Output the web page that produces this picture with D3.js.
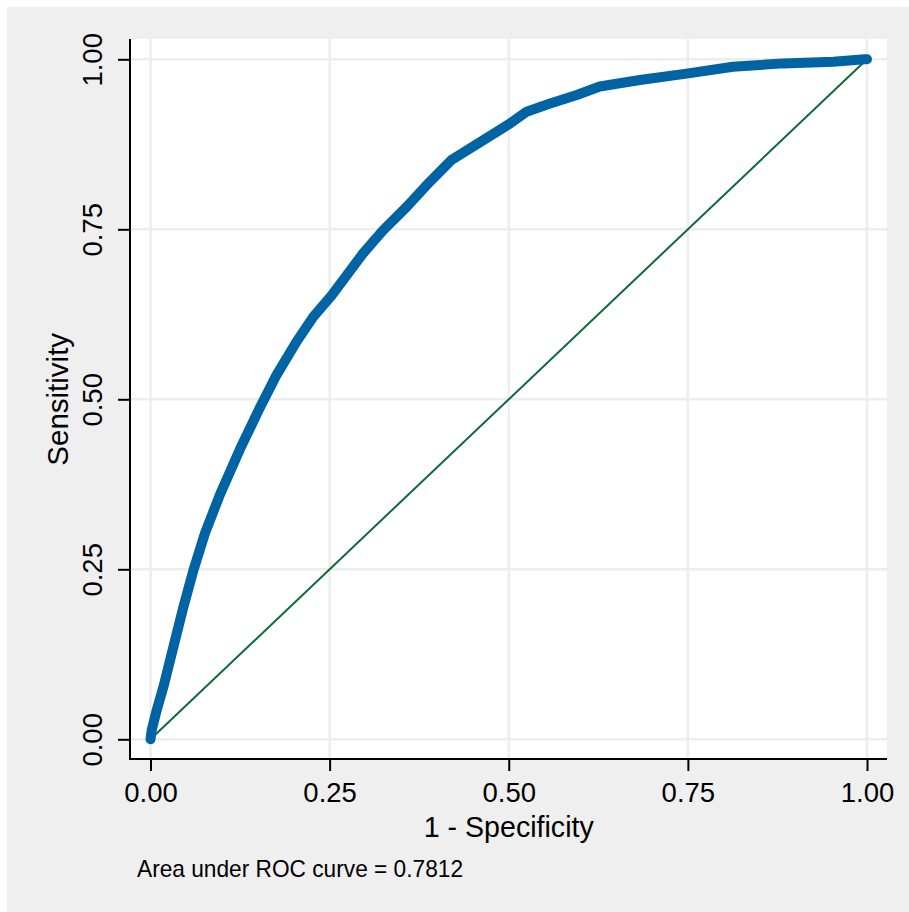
<!DOCTYPE html>
<html>
<head>
<meta charset="utf-8">
<script src="https://cdn.jsdelivr.net/npm/d3@7"></script>
<style>
  body { margin: 0; background: #fff; }
  svg { display: block; font-family: "Liberation Sans", Arial, sans-serif; }
</style>
</head>
<body>
<svg id="chart"></svg>
<script>
// courbe ROC : 1 - spécificité, sensibilité
var fpr = [0, 0.0017, 0.0087, 0.018, 0.032, 0.046, 0.060, 0.076, 0.097, 0.125, 0.150, 0.176,
  0.204, 0.227, 0.253, 0.297, 0.325, 0.3575, 0.390, 0.420, 0.4994, 0.525, 0.5576, 0.595,
  0.627, 0.683, 0.748, 0.813, 0.883, 0.953, 0.997, 1]
var tpr = [0, 0.0137, 0.043, 0.077, 0.136, 0.195, 0.249, 0.303, 0.360, 0.427, 0.482, 0.536,
  0.585, 0.621, 0.653, 0.715, 0.749, 0.783, 0.820, 0.852, 0.904, 0.923, 0.935, 0.9475,
  0.96, 0.9695, 0.979, 0.989, 0.994, 0.9965, 1.0, 1]

// diagonale de référence
var refX = [0, 1]
var refY = [0, 1]

var ticks = [0, 0.25, 0.5, 0.75, 1]
var xTitle = "1 - Specificity"
var yTitle = "Sensitivity"
var note = "Area under ROC curve = 0.7812"

var W = 909, H = 912
var svg = d3.select("#chart").attr("width", W).attr("height", H)

// fond gris
svg.append("rect")
  .attr("x", 7).attr("y", 7).attr("width", W - 7).attr("height", H - 7)
  .attr("fill", "#efefef")

// zone de tracé
var plot = {left: 130, top: 39, right: 887, bottom: 759}
svg.append("rect")
  .attr("x", plot.left).attr("y", plot.top)
  .attr("width", plot.right - plot.left).attr("height", plot.bottom - plot.top)
  .attr("fill", "#fff")

var x = d3.scaleLinear().domain([0, 1]).range([150.5, 867])
var y = d3.scaleLinear().domain([0, 1]).range([739.3, 59.3])

// grille
svg.append("g").selectAll("line").data(ticks).enter().append("line")
  .attr("x1", plot.left).attr("x2", plot.right)
  .attr("y1", function(d){return y(d)}).attr("y2", function(d){return y(d)})
  .attr("stroke", "#ededed").attr("stroke-width", 2.5)
svg.append("g").selectAll("line").data(ticks).enter().append("line")
  .attr("y1", plot.top).attr("y2", plot.bottom)
  .attr("x1", function(d){return x(d)}).attr("x2", function(d){return x(d)})
  .attr("stroke", "#ededed").attr("stroke-width", 2.5)

// diagonale
svg.append("path")
  .datum(d3.zip(refX, refY))
  .attr("d", d3.line().x(function(d){return x(d[0])}).y(function(d){return y(d[1])}))
  .attr("fill", "none").attr("stroke", "#0b6b3a").attr("stroke-width", 2)

// courbe ROC
svg.append("path")
  .datum(d3.zip(fpr, tpr))
  .attr("d", d3.line().x(function(d){return x(d[0])}).y(function(d){return y(d[1])}))
  .attr("fill", "none").attr("stroke", "#0063a3").attr("stroke-width", 10)
  .attr("stroke-linecap", "round").attr("stroke-linejoin", "round")

// axes
var fmt = d3.format(".2f")
var xAxis = svg.append("g")
  .attr("transform", "translate(0," + plot.bottom + ")")
  .call(d3.axisBottom(x).tickValues(ticks).tickSize(12).tickSizeOuter(0).tickFormat(fmt))
xAxis.select(".domain").remove()
xAxis.selectAll(".tick line").attr("stroke", "#000").attr("stroke-width", 2)
xAxis.selectAll(".tick text")
  .attr("y", 43).attr("dy", 0)
  .attr("font-size", 27.5).attr("font-family", "Liberation Sans, Arial, sans-serif").attr("fill", "#000")

var yAxis = svg.append("g")
  .attr("transform", "translate(" + plot.left + ",0)")
  .call(d3.axisLeft(y).tickValues(ticks).tickSize(12).tickSizeOuter(0).tickFormat(fmt))
yAxis.select(".domain").remove()
yAxis.selectAll(".tick line").attr("stroke", "#000").attr("stroke-width", 2)
yAxis.selectAll(".tick text")
  .attr("x", 0).attr("y", 0).attr("dy", 0)
  .attr("transform", "translate(-28,0) rotate(-90)")
  .attr("text-anchor", "middle")
  .attr("font-size", 27.5).attr("font-family", "Liberation Sans, Arial, sans-serif").attr("fill", "#000")

// lignes des axes
svg.append("line")
  .attr("x1", plot.left).attr("x2", plot.left).attr("y1", plot.top).attr("y2", plot.bottom + 1)
  .attr("stroke", "#000").attr("stroke-width", 2)
svg.append("line")
  .attr("x1", plot.left - 1).attr("x2", plot.right).attr("y1", plot.bottom).attr("y2", plot.bottom)
  .attr("stroke", "#000").attr("stroke-width", 2)

// titres
svg.append("text")
  .text(xTitle)
  .attr("x", x(0.5)).attr("y", 836.5)
  .attr("text-anchor", "middle").attr("font-size", 28.6)
svg.append("text")
  .text(yTitle)
  .attr("transform", "translate(68," + y(0.5) + ") rotate(-90)")
  .attr("text-anchor", "middle").attr("font-size", 29.5)

// note
svg.append("text")
  .text(note)
  .attr("x", 137).attr("y", 877)
  .attr("font-size", 24)
  .attr("textLength", 326).attr("lengthAdjust", "spacingAndGlyphs")
</script>
</body>
</html>
